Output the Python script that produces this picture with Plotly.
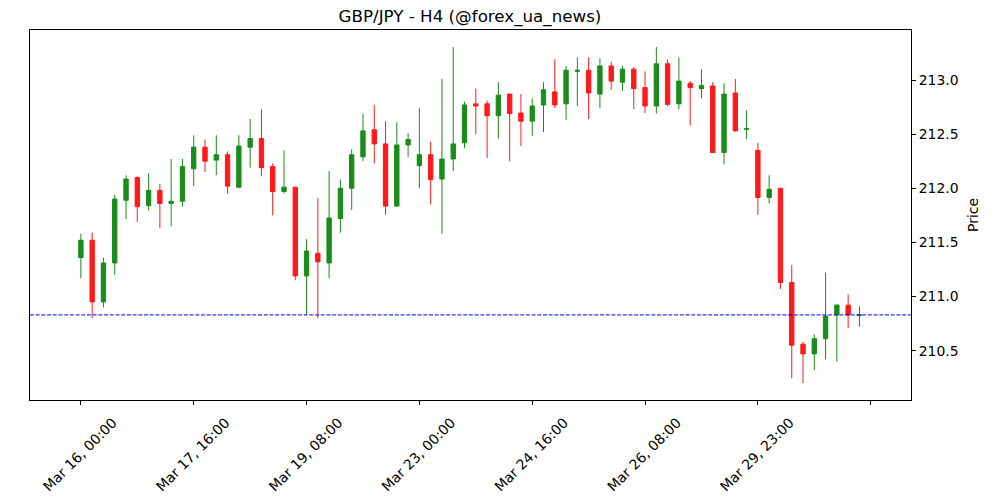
import plotly.graph_objects as go

# ---- data ----
opens = [211.36, 211.52, 210.95, 211.31, 211.89, 212.10, 211.84, 211.98, 211.86, 211.88,
         212.18, 212.38, 212.26, 212.31, 212.01, 212.38, 212.46, 212.20, 211.97, 212.01,
         211.19, 211.40, 211.31, 211.72, 212.00, 212.29, 212.54, 212.41, 211.835, 212.40,
         212.21, 212.31, 212.085, 212.27, 212.42, 212.78, 212.78, 212.67, 212.87, 212.695,
         212.62, 212.77, 212.89, 212.78, 213.08, 213.09, 212.87, 213.13, 212.98, 213.10,
         212.93, 212.76, 213.15, 212.78, 212.97, 212.92, 212.945, 212.33, 212.88, 212.545,
         212.35, 211.915, 212.00, 211.13, 210.56, 210.47, 210.61, 210.83, 210.92, 210.825]
highs = [211.58, 211.59, 211.36, 211.94, 212.12, 212.11, 212.14, 212.04, 212.27, 212.27,
         212.49, 212.45, 212.49, 212.34, 212.49, 212.64, 212.73, 212.23, 212.35, 212.01,
         211.53, 211.91, 212.16, 212.08, 212.36, 212.69, 212.77, 212.62, 212.61, 212.51,
         212.74, 212.43, 213.01, 213.305, 212.80, 212.92, 212.81, 212.98, 212.87, 212.87,
         212.83, 212.98, 213.19, 213.13, 213.21, 213.21, 213.20, 213.17, 213.13, 213.12,
         213.08, 213.305, 213.19, 213.21, 212.99, 213.10, 212.98, 212.97, 213.01, 212.72,
         212.42, 212.12, 212.00, 211.29, 210.58, 210.65, 211.22, 210.93, 211.02, 210.91]
lows = [211.17, 210.80, 210.90, 211.20, 211.715, 211.69, 211.795, 211.63, 211.65, 211.83,
        212.02, 212.15, 212.12, 211.95, 212.00, 212.19, 212.11, 211.75, 211.95, 211.15,
        210.83, 210.80, 211.17, 211.59, 211.80, 212.25, 212.23, 211.755, 211.83, 212.29,
        212.00, 211.85, 211.58, 212.16, 212.37, 212.50, 212.28, 212.46, 212.25, 212.39,
        212.485, 212.52, 212.74, 212.63, 212.76, 212.64, 212.74, 212.91, 212.90, 212.73,
        212.695, 212.69, 212.755, 212.73, 212.58, 212.83, 212.325, 212.22, 212.525, 212.455,
        211.755, 211.86, 211.07, 210.245, 210.20, 210.32, 210.42, 210.40, 210.71, 210.72]
closes = [211.52, 210.95, 211.31, 211.90, 212.085, 211.83, 211.98, 211.86, 211.88, 212.20,
          212.38, 212.25, 212.31, 212.02, 212.39, 212.46, 212.19, 211.97, 212.01, 211.19,
          211.42, 211.32, 211.725, 212.00, 212.31, 212.53, 212.41, 211.835, 212.40, 212.45,
          212.31, 212.08, 212.27, 212.41, 212.77, 212.76, 212.67, 212.86, 212.69, 212.62,
          212.76, 212.91, 212.77, 213.09, 213.09, 212.88, 213.13, 212.99, 213.10, 212.92,
          212.76, 213.15, 212.775, 212.99, 212.93, 212.95, 212.33, 212.87, 212.53, 212.55,
          211.915, 211.99, 211.13, 210.55, 210.47, 210.61, 210.82, 210.92, 210.83, 210.83]
candle_index = list(range(len(opens)))

tick_positions = [0, 10, 20, 30, 40, 50, 60, 70]
tick_labels = ["Mar 16, 00:00", "Mar 17, 16:00", "Mar 19, 08:00", "Mar 23, 00:00",
               "Mar 24, 16:00", "Mar 26, 08:00", "Mar 29, 23:00", ""]
y_ticks = [210.5, 211.0, 211.5, 212.0, 212.5, 213.0]
last_price = 210.83

GREEN = "#198c19"
RED = "#ff1919"
FONT = "DejaVu Sans"

fig = go.Figure(go.Candlestick(
    x=candle_index, open=opens, high=highs, low=lows, close=closes,
    increasing=dict(line=dict(color=GREEN, width=1), fillcolor=GREEN),
    decreasing=dict(line=dict(color=RED, width=1), fillcolor=RED),
    whiskerwidth=0, showlegend=False, hoverinfo="x+y",
))

fig.add_shape(type="line", xref="paper", x0=0, x1=1, yref="y",
              y0=last_price, y1=last_price,
              line=dict(color="#0000ff", width=1, dash="4px,1.7px"))

fig.update_layout(
    width=1000, height=500,
    margin=dict(l=30, r=89, t=30, b=100, pad=0, autoexpand=False),
    paper_bgcolor="white", plot_bgcolor="white",
    font=dict(family=FONT, size=13.9, color="black"),
    boxgap=0.45,
    title=dict(text="GBP/JPY - H4 (@forex_ua_news)", x=0.47, xanchor="center",
               y=1 - 16 / 500, yanchor="middle", yref="container",
               font=dict(family=FONT, size=16.7, color="black")),
    xaxis=dict(
        range=[-4.51, 73.57], rangeslider=dict(visible=False), automargin=False,
        tickmode="array", tickvals=tick_positions, ticktext=tick_labels,
        tickangle=-45, ticks="outside", ticklen=4, tickwidth=1, tickcolor="black",
        ticklabelshift=32, ticklabelstandoff=4,
        showgrid=False, zeroline=False,
        showline=True, mirror=True, linecolor="black", linewidth=1,
        tickfont=dict(family=FONT, size=13.9, color="black"),
    ),
    yaxis=dict(
        range=[210.044, 213.462], side="right", automargin=False,
        tickmode="array", tickvals=y_ticks, ticktext=[f"{v:.1f}" for v in y_ticks],
        ticks="outside", ticklen=4, tickwidth=1, tickcolor="black",
        showgrid=False, zeroline=False,
        showline=True, mirror=True, linecolor="black", linewidth=1,
        tickfont=dict(family=FONT, size=13.9, color="black"),
        title=dict(text="Price", standoff=10, font=dict(family=FONT, size=13.9, color="black")),
    ),
)

fig.write_html("out.html")
